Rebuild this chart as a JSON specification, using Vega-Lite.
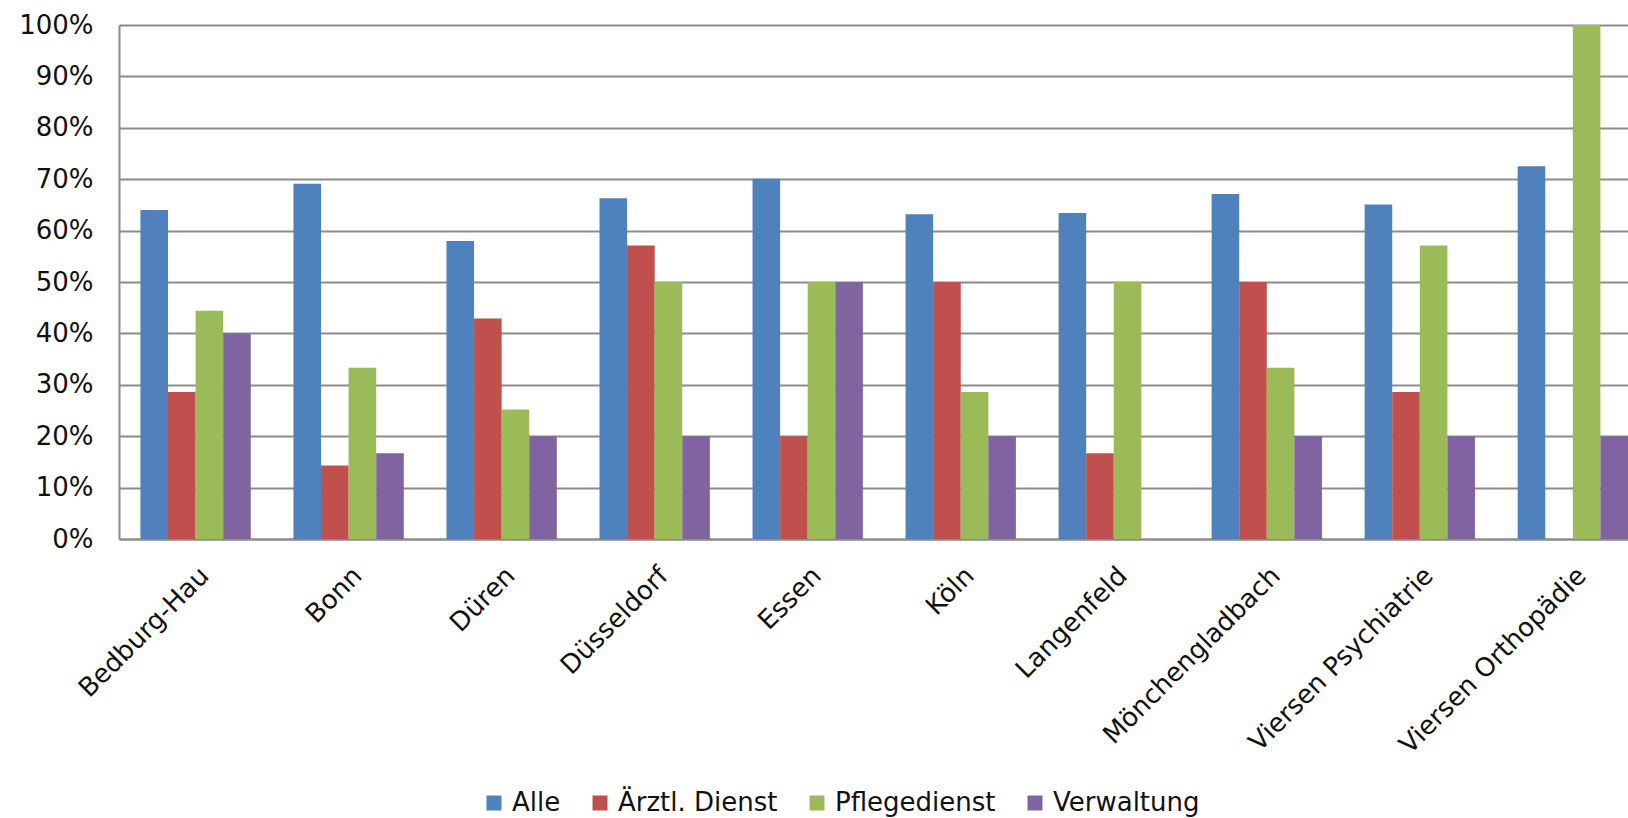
{
  "$schema": "https://vega.github.io/schema/vega-lite/v6.json",
  "autosize": {"type": "none"},
  "padding": {"left": 119, "top": 25, "right": 0, "bottom": 279},
  "width": 1509,
  "height": 514,
  "background": "white",
  "config": {
    "view": {"stroke": null},
    "font": "DejaVu Sans",
    "axis": {"labelFont": "DejaVu Sans", "labelColor": "#111111", "labelFontSize": 26}
  },
  "data": {
    "values": [
      {"Standort": "Bedburg-Hau", "Gruppe": "Alle", "Wert": 0.640},
      {"Standort": "Bedburg-Hau", "Gruppe": "Ärztl. Dienst", "Wert": 0.286},
      {"Standort": "Bedburg-Hau", "Gruppe": "Pflegedienst", "Wert": 0.444},
      {"Standort": "Bedburg-Hau", "Gruppe": "Verwaltung", "Wert": 0.400},
      {"Standort": "Bonn", "Gruppe": "Alle", "Wert": 0.691},
      {"Standort": "Bonn", "Gruppe": "Ärztl. Dienst", "Wert": 0.143},
      {"Standort": "Bonn", "Gruppe": "Pflegedienst", "Wert": 0.333},
      {"Standort": "Bonn", "Gruppe": "Verwaltung", "Wert": 0.167},
      {"Standort": "Düren", "Gruppe": "Alle", "Wert": 0.580},
      {"Standort": "Düren", "Gruppe": "Ärztl. Dienst", "Wert": 0.429},
      {"Standort": "Düren", "Gruppe": "Pflegedienst", "Wert": 0.252},
      {"Standort": "Düren", "Gruppe": "Verwaltung", "Wert": 0.200},
      {"Standort": "Düsseldorf", "Gruppe": "Alle", "Wert": 0.663},
      {"Standort": "Düsseldorf", "Gruppe": "Ärztl. Dienst", "Wert": 0.571},
      {"Standort": "Düsseldorf", "Gruppe": "Pflegedienst", "Wert": 0.500},
      {"Standort": "Düsseldorf", "Gruppe": "Verwaltung", "Wert": 0.200},
      {"Standort": "Essen", "Gruppe": "Alle", "Wert": 0.701},
      {"Standort": "Essen", "Gruppe": "Ärztl. Dienst", "Wert": 0.200},
      {"Standort": "Essen", "Gruppe": "Pflegedienst", "Wert": 0.500},
      {"Standort": "Essen", "Gruppe": "Verwaltung", "Wert": 0.500},
      {"Standort": "Köln", "Gruppe": "Alle", "Wert": 0.632},
      {"Standort": "Köln", "Gruppe": "Ärztl. Dienst", "Wert": 0.500},
      {"Standort": "Köln", "Gruppe": "Pflegedienst", "Wert": 0.286},
      {"Standort": "Köln", "Gruppe": "Verwaltung", "Wert": 0.200},
      {"Standort": "Langenfeld", "Gruppe": "Alle", "Wert": 0.634},
      {"Standort": "Langenfeld", "Gruppe": "Ärztl. Dienst", "Wert": 0.167},
      {"Standort": "Langenfeld", "Gruppe": "Pflegedienst", "Wert": 0.500},
      {"Standort": "Langenfeld", "Gruppe": "Verwaltung", "Wert": 0.0},
      {"Standort": "Mönchengladbach", "Gruppe": "Alle", "Wert": 0.671},
      {"Standort": "Mönchengladbach", "Gruppe": "Ärztl. Dienst", "Wert": 0.500},
      {"Standort": "Mönchengladbach", "Gruppe": "Pflegedienst", "Wert": 0.333},
      {"Standort": "Mönchengladbach", "Gruppe": "Verwaltung", "Wert": 0.200},
      {"Standort": "Viersen Psychiatrie", "Gruppe": "Alle", "Wert": 0.651},
      {"Standort": "Viersen Psychiatrie", "Gruppe": "Ärztl. Dienst", "Wert": 0.286},
      {"Standort": "Viersen Psychiatrie", "Gruppe": "Pflegedienst", "Wert": 0.571},
      {"Standort": "Viersen Psychiatrie", "Gruppe": "Verwaltung", "Wert": 0.200},
      {"Standort": "Viersen Orthopädie", "Gruppe": "Alle", "Wert": 0.725},
      {"Standort": "Viersen Orthopädie", "Gruppe": "Ärztl. Dienst", "Wert": 0.0},
      {"Standort": "Viersen Orthopädie", "Gruppe": "Pflegedienst", "Wert": 1.0},
      {"Standort": "Viersen Orthopädie", "Gruppe": "Verwaltung", "Wert": 0.200}
    ]
  },
  "mark": {"type": "bar", "cornerRadius": 0},
  "encoding": {
    "x": {
      "field": "Standort",
      "type": "nominal",
      "sort": null,
      "title": null,
      "scale": {"paddingInner": 0.279, "paddingOuter": 0.07, "align": 1},
      "axis": {
        "labelAngle": -45,
        "labelAlign": "right",
        "labelBaseline": "top",
        "labelPadding": 23,
        "labelDx": -18,
        "labelLimit": 500,
        "labelOverlap": false,
        "ticks": false,
        "domainColor": "#8c8c8c",
        "domainWidth": 2,
        "grid": false
      }
    },
    "xOffset": {
      "field": "Gruppe",
      "type": "nominal",
      "sort": ["Alle", "Ärztl. Dienst", "Pflegedienst", "Verwaltung"],
      "scale": {"paddingInner": 0, "paddingOuter": 0}
    },
    "y": {
      "field": "Wert",
      "type": "quantitative",
      "title": null,
      "scale": {"domain": [0, 1], "nice": false},
      "axis": {
        "format": ".0%",
        "values": [0, 0.1, 0.2, 0.3, 0.4, 0.5, 0.6, 0.7, 0.8, 0.9, 1.0],
        "ticks": false,
        "labelPadding": 26,
        "domainColor": "#8c8c8c",
        "domainWidth": 2,
        "gridColor": "#8c8c8c",
        "gridWidth": 2
      }
    },
    "color": {
      "field": "Gruppe",
      "type": "nominal",
      "sort": ["Alle", "Ärztl. Dienst", "Pflegedienst", "Verwaltung"],
      "scale": {
        "domain": ["Alle", "Ärztl. Dienst", "Pflegedienst", "Verwaltung"],
        "range": ["#4F81BD", "#C0504D", "#9BBB59", "#8064A2"]
      },
      "legend": {
        "title": null,
        "orient": "none",
        "direction": "horizontal",
        "legendX": 362,
        "legendY": 765,
        "symbolType": "square",
        "symbolSize": 225,
        "symbolStrokeWidth": 0,
        "symbolOpacity": 1,
        "labelFontSize": 26,
        "labelFont": "DejaVu Sans",
        "labelColor": "#111111",
        "labelOffset": 5,
        "columnPadding": 26,
        "labelLimit": 400
      }
    }
  }
}
